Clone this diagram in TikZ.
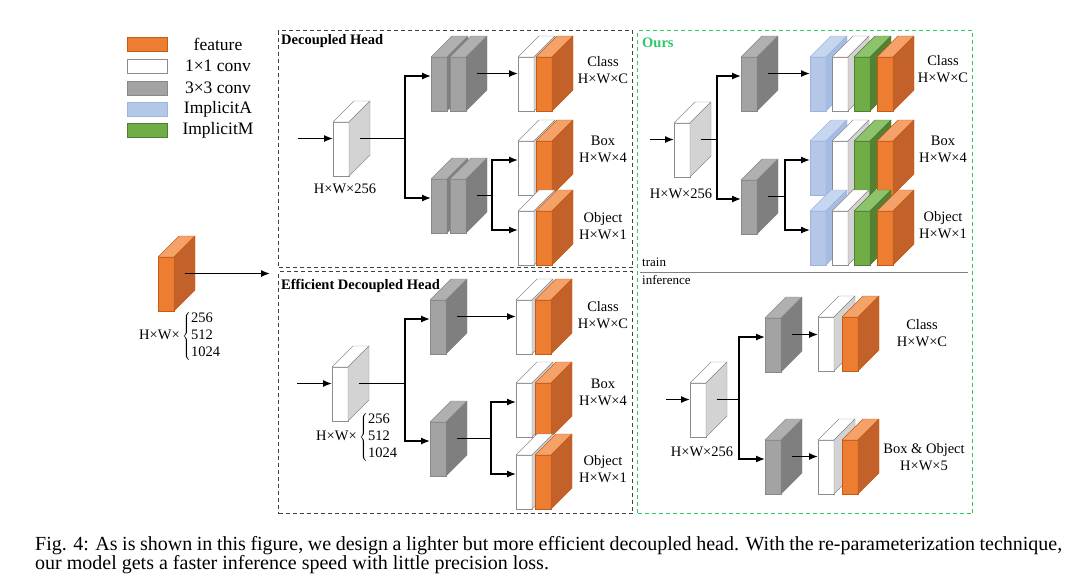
\documentclass[tikz,border=0pt]{standalone}
\usepackage{fontspec}
\setmainfont{Liberation Serif}
\usepackage{tikz}
\usetikzlibrary{arrows.meta}

\definecolor{orF}{HTML}{ED7D31}
\definecolor{orS}{HTML}{C2612A}
\definecolor{orT}{HTML}{F4A26A}
\definecolor{orE}{HTML}{C55A11}
\definecolor{whF}{HTML}{FFFFFF}
\definecolor{whS}{HTML}{D3D3D3}
\definecolor{whT}{HTML}{FFFFFF}
\definecolor{whE}{HTML}{8C8C8C}
\definecolor{gyF}{HTML}{A3A3A3}
\definecolor{gyS}{HTML}{7F7F7F}
\definecolor{gyT}{HTML}{B0B0B0}
\definecolor{gyE}{HTML}{888888}
\definecolor{blF}{HTML}{B4C7E7}
\definecolor{blS}{HTML}{A6BCE3}
\definecolor{blT}{HTML}{C7D6EF}
\definecolor{blE}{HTML}{9CB4DF}
\definecolor{gnF}{HTML}{70AD47}
\definecolor{gnS}{HTML}{548235}
\definecolor{gnT}{HTML}{8EC36B}
\definecolor{gnE}{HTML}{507E32}
\definecolor{frameK}{HTML}{404040}
\definecolor{frameG}{HTML}{2EC76A}

\newcommand{\cubeW}{16}
\newcommand{\cubeH}{54}
\newcommand{\cubeD}{21}
% name, top-left corner of the front face, colour set
\newcommand{\cube}[3]{%
  \node[face, fill=#3F, draw=#3E, anchor=north west] (#1) at (#2) {};
  \filldraw[fill=#3T, draw=#3E, line join=round] (#1.north west) -- ++(\cubeD,-\cubeD)
    -- ++(\cubeW,0) -- (#1.north east) -- cycle;
  \filldraw[fill=#3S, draw=#3E, line join=round] (#1.north east) -- ++(\cubeD,-\cubeD)
    -- ++(0,\cubeH) -- (#1.south east) -- cycle;
  \coordinate (#1o) at ([shift={(\cubeD/2,-\cubeD/2)}]#1.east);
  \coordinate (#1i) at ([shift={(0,-8)}]#1.west);
}

\begin{document}
\begin{tikzpicture}[x=1pt, y=-1pt,
  face/.style={minimum width=\cubeW, minimum height=\cubeH, inner sep=0, outer sep=0,
               line width=0.8pt},
  swatch/.style={minimum width=40, minimum height=14, inner sep=0, line width=0.8pt, draw},
  lgtext/.style={font=\fontsize{17.5}{20}\selectfont, inner sep=0},
  lbl/.style={font=\fontsize{14.5}{17}\selectfont, align=center, inner sep=0},
  ttl/.style={font=\bfseries\fontsize{14.5}{17}\selectfont, anchor=west, inner sep=0},
  dframe/.style={draw=frameK, dash pattern=on 4pt off 3pt, line width=1pt, inner sep=0,
                 anchor=north west},
  ln/.style={line width=1.3pt},
  arr/.style={-{Latex[length=9pt,width=7pt]}, line width=1.3pt}]
  \useasboundingbox (0,0) rectangle (1084,579);

  \node[swatch, fill=orF, draw=orE] (lgFeat) at (147,44) {};
  \node[swatch, fill=whF, draw=whE] (lgOne) at (147,66) {};
  \node[swatch, fill=gyF, draw=gyE] (lgThree) at (147,88) {};
  \node[swatch, fill=blF, draw=blE] (lgImpA) at (147,109) {};
  \node[swatch, fill=gnF, draw=gnE] (lgImpM) at (147,130) {};
  \node[lgtext] (lgFeatT) at (218,44) {feature};
  \node[lgtext] (lgOneT) at (218,66) {1×1 conv};
  \node[lgtext] (lgThreeT) at (218,88) {3×3 conv};
  \node[lgtext] (lgImpAT) at (218,109) {ImplicitA};
  \node[lgtext] (lgImpMT) at (218,130) {ImplicitM};

  \node[dframe, minimum width=354, minimum height=237] (decFrame) at (278,30) {};
  \node[dframe, minimum width=354, minimum height=242] (effFrame) at (278,271) {};
  \node[dframe, draw=frameG, minimum width=335, minimum height=483] (oursFrame) at (637,30) {};
  \node[ttl] (decT) at (281,41) {Decoupled Head};
  \node[ttl] (effT) at (281,286) {Efficient Decoupled Head};
  \node[ttl, text=frameG] (oursT) at (642,43) {Ours};
  \node[lbl, anchor=west, font=\fontsize{13}{15}\selectfont] (trainT) at (642,262) {train};
  \node[lbl, anchor=west, font=\fontsize{13}{15}\selectfont] (infT) at (642,280) {inference};
  \coordinate (sepL) at (640,272);
  \coordinate (sepR) at (968,272);
  \draw[draw=gray, line width=0.9pt] (sepL) -- (sepR);

  \cube{feat}{158,257}{or}
  \node[lbl, anchor=west] (featDim) at (139,336)
    {H×W×\,$\left\{\begin{tabular}{@{}l@{}}256\\512\\1024\end{tabular}\right.$};
  \coordinate (featEnd) at (270,273.5);
  \draw[arr] (feato) -- (featEnd);

  \cube{dIn}{333,122}{wh}
  \cube{dG1a}{431,57}{gy}
  \cube{dG1b}{450,57}{gy}
  \cube{dG2a}{431,179}{gy}
  \cube{dG2b}{450,179}{gy}
  \cube{dC1}{518,57}{wh}
  \cube{dC2}{536,57}{or}
  \cube{dB1}{518,141}{wh}
  \cube{dB2}{536,141}{or}
  \cube{dO1}{518,211}{wh}
  \cube{dO2}{536,211}{or}
  \node[lbl] (dInL) at (345,189) {H×W×256};
  \node[lbl] (dCL) at (603,70) {Class\\H×W×C};
  \node[lbl] (dBL) at (603,149) {Box\\H×W×4};
  \node[lbl] (dOL) at (603,226) {Object\\H×W×1};
  \coordinate (dInS) at (298,138.5);
  \coordinate (dBr1) at (405,138.5);
  \coordinate (dBr2) at (492,195.5);
  \draw[arr] (dInS) -- (dInS -| dIn.west);
  \draw[ln] (dIno) -- (dBr1);
  \draw[arr] (dBr1) |- (dG1ai);
  \draw[arr] (dBr1) |- (dG2ai);
  \draw[arr] (dG1bo) -- (dG1bo -| dC1.west);
  \draw[ln] (dG2bo) -- (dBr2);
  \draw[arr] (dBr2) |- (dB1i);
  \draw[arr] (dBr2) |- (dO1i);

  \cube{eIn}{332,367}{wh}
  \cube{eG1}{430,300}{gy}
  \cube{eG2}{430,422}{gy}
  \cube{eC1}{516,300}{wh}
  \cube{eC2}{535,300}{or}
  \cube{eB1}{516,383}{wh}
  \cube{eB2}{535,383}{or}
  \cube{eO1}{516,455}{wh}
  \cube{eO2}{535,455}{or}
  \node[lbl, anchor=west] (eInL) at (316,437)
    {H×W×\,$\left\{\begin{tabular}{@{}l@{}}256\\512\\1024\end{tabular}\right.$};
  \node[lbl] (eCL) at (603,315) {Class\\H×W×C};
  \node[lbl] (eBL) at (603,392) {Box\\H×W×4};
  \node[lbl] (eOL) at (603,469) {Object\\H×W×1};
  \coordinate (eInS) at (297,383.5);
  \coordinate (eBr1) at (405,383.5);
  \coordinate (eBr2) at (491,438.5);
  \draw[arr] (eInS) -- (eInS -| eIn.west);
  \draw[ln] (eIno) -- (eBr1);
  \draw[arr] (eBr1) |- (eG1i);
  \draw[arr] (eBr1) |- (eG2i);
  \draw[arr] (eG1o) -- (eG1o -| eC1.west);
  \draw[ln] (eG2o) -- (eBr2);
  \draw[arr] (eBr2) |- (eB1i);
  \draw[arr] (eBr2) |- (eO1i);

  \cube{tIn}{674,123}{wh}
  \cube{tG1}{741,57}{gy}
  \cube{tG2}{741,180}{gy}
  \cube{tC1}{810,57}{bl}
  \cube{tC2}{832,57}{wh}
  \cube{tC3}{854,57}{gn}
  \cube{tC4}{877,57}{or}
  \cube{tB1}{810,141}{bl}
  \cube{tB2}{832,141}{wh}
  \cube{tB3}{854,141}{gn}
  \cube{tB4}{877,141}{or}
  \cube{tO1}{810,211}{bl}
  \cube{tO2}{832,211}{wh}
  \cube{tO3}{854,211}{gn}
  \cube{tO4}{877,211}{or}
  \node[lbl] (tInL) at (681,194) {H×W×256};
  \node[lbl] (tCL) at (943,69) {Class\\H×W×C};
  \node[lbl] (tBL) at (943,149) {Box\\H×W×4};
  \node[lbl] (tOL) at (943,225) {Object\\H×W×1};
  \coordinate (tInS) at (650,139.5);
  \coordinate (tBr1) at (717,139.5);
  \coordinate (tBr2) at (785,196.5);
  \draw[arr] (tInS) -- (tInS -| tIn.west);
  \draw[ln] (tIno) -- (tBr1);
  \draw[arr] (tBr1) |- (tG1i);
  \draw[arr] (tBr1) |- (tG2i);
  \draw[arr] (tG1o) -- (tG1o -| tC1.west);
  \draw[ln] (tG2o) -- (tBr2);
  \draw[arr] (tBr2) |- (tB1i);
  \draw[arr] (tBr2) |- (tO1i);

  \cube{iIn}{690,383}{wh}
  \cube{iG1}{765,318}{gy}
  \cube{iG2}{765,440}{gy}
  \cube{iC1}{818,317}{wh}
  \cube{iC2}{842,317}{or}
  \cube{iB1}{818,440}{wh}
  \cube{iB2}{842,440}{or}
  \node[lbl] (iInL) at (702,452) {H×W×256};
  \node[lbl] (iCL) at (922,333) {Class\\H×W×C};
  \node[lbl] (iBL) at (924,457) {Box \& Object\\H×W×5};
  \coordinate (iInS) at (666,399.5);
  \coordinate (iBr) at (739,399.5);
  \draw[arr] (iInS) -- (iInS -| iIn.west);
  \draw[ln] (iIno) -- (iBr);
  \draw[arr] (iBr) |- (iG1i);
  \draw[arr] (iBr) |- (iG2i);
  \draw[arr] (iG1o) -- (iG1o -| iC1.west);
  \draw[arr] (iG2o) -- (iG2o -| iB1.west);

  \node[anchor=north west, text width=1027, align=justify, inner sep=0,
        font=\fontsize{20}{19}\selectfont] (cap) at (35,536)
    {Fig. 4: As is shown in this figure, we design a lighter but more efficient decoupled head.
     With the re-parameterization technique,\linebreak our model gets a faster inference speed
     with little precision loss.};
\end{tikzpicture}
\end{document}
